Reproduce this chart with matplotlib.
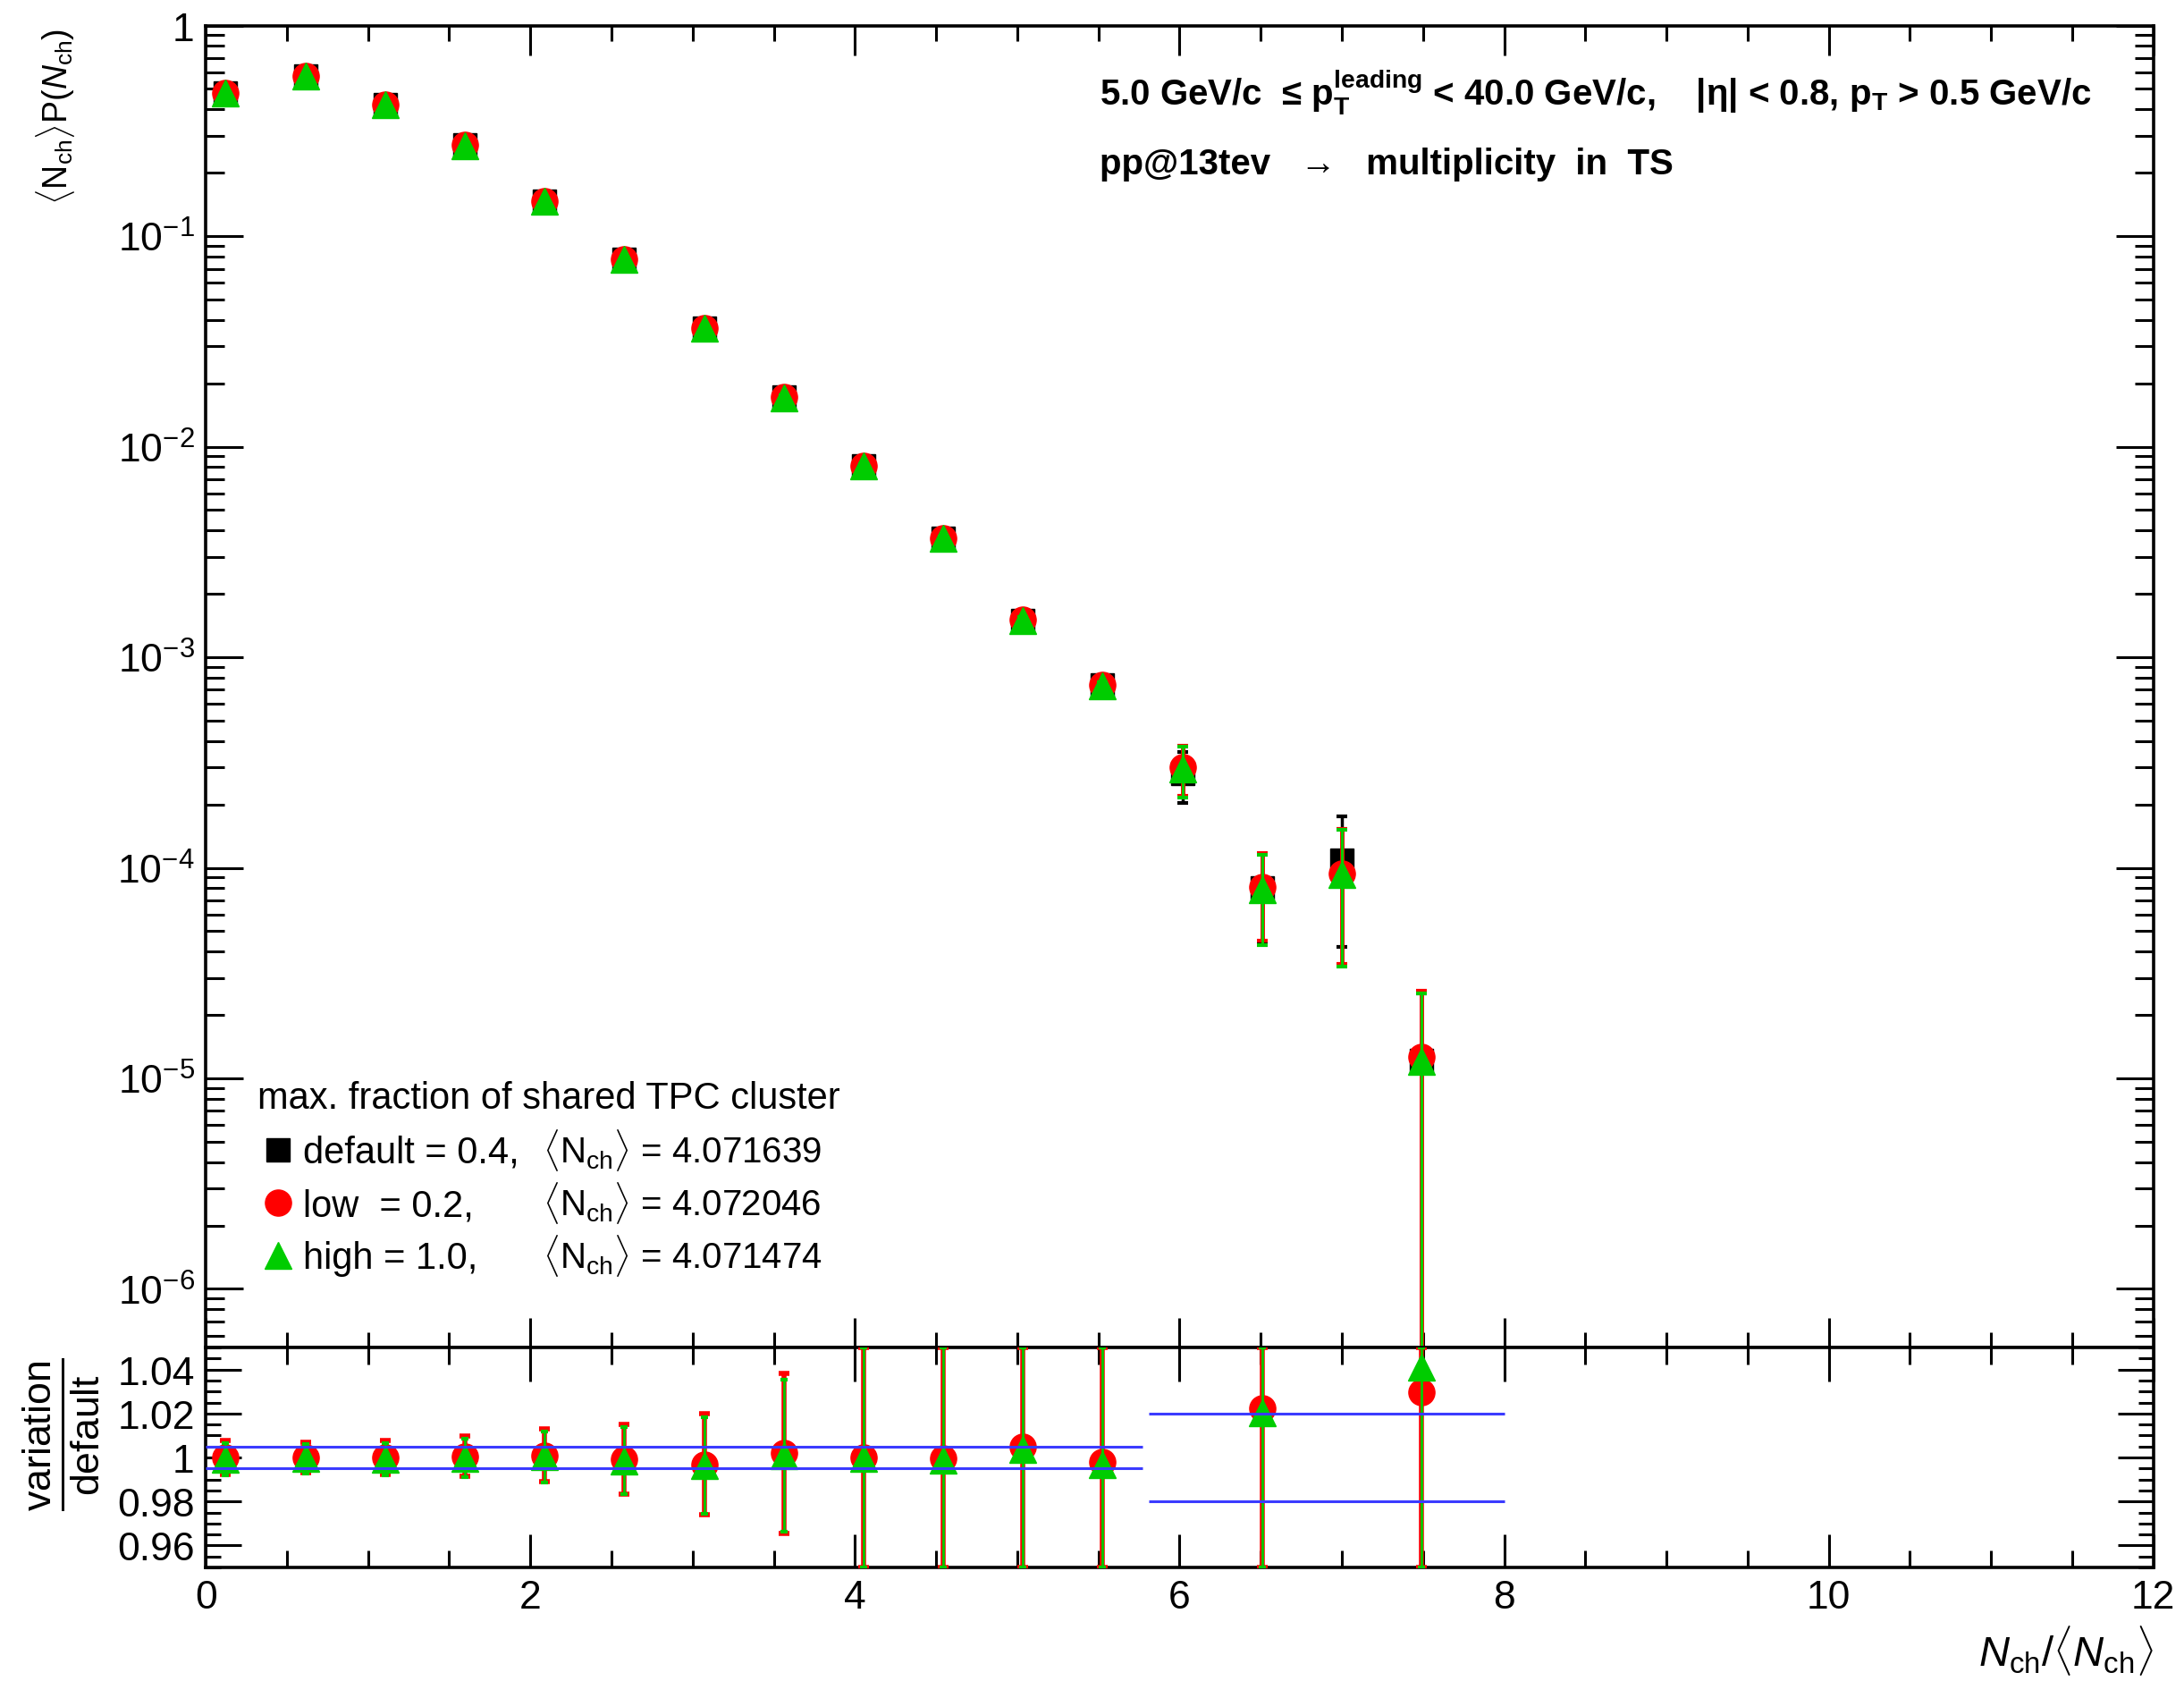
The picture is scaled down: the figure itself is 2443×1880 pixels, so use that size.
import numpy as np
import matplotlib
matplotlib.use('Agg')
import matplotlib.pyplot as plt
from matplotlib.ticker import LogLocator, MultipleLocator, FuncFormatter, NullFormatter

plt.rcParams['font.family'] = ['Liberation Sans', 'DejaVu Sans']
plt.rcParams['mathtext.fontset'] = 'custom'
plt.rcParams['mathtext.rm'] = 'Liberation Sans'
plt.rcParams['mathtext.it'] = 'Liberation Sans:italic'
plt.rcParams['mathtext.bf'] = 'Liberation Sans:bold'

# bin centres in N_ch/<N_ch>
x = [0.123, 0.614, 1.105, 1.597, 2.088, 2.579, 3.070, 3.562,
     4.053, 4.544, 5.035, 5.526, 6.018, 6.509, 7.000, 7.491]

# <N_ch> P(N_ch) for the three cut variations
p_default = [0.48, 0.578, 0.42, 0.27, 0.147, 0.0774, 0.0367, 0.0172,
             0.0081, 0.00368, 0.0015, 0.00074, 2.8e-4, 8.0e-5, 1.09e-4, 1.22e-5]
e_default = [0.004, 0.005, 0.004, 0.003, 0.002, 0.0012, 0.0007, 0.0004,
             0.0002, 0.0001, 5e-5, 3e-5, 7.6e-5, 3.6e-5, 6.7e-5, 1.3e-5]
p_low = [0.48, 0.578, 0.42, 0.27, 0.147, 0.0774, 0.0366, 0.0172,
         0.0081, 0.00368, 0.00151, 0.00074, 3.0e-4, 8.1e-5, 9.4e-5, 1.26e-5]
e_low = [0.004, 0.005, 0.004, 0.003, 0.002, 0.0012, 0.0007, 0.0004,
         0.0002, 0.0001, 5e-5, 3e-5, 8.0e-5, 3.6e-5, 5.9e-5, 1.34e-5]
p_high = [0.478, 0.577, 0.419, 0.269, 0.146, 0.0772, 0.0365, 0.0171,
          0.0081, 0.00366, 0.0015, 0.00073, 2.95e-4, 7.9e-5, 9.3e-5, 1.2e-5]
e_high = [0.004, 0.005, 0.004, 0.003, 0.002, 0.0012, 0.0007, 0.0004,
          0.0002, 0.0001, 5e-5, 3e-5, 8.0e-5, 3.6e-5, 5.9e-5, 1.34e-5]

# variation / default
rx = [0.123, 0.614, 1.105, 1.597, 2.088, 2.579, 3.070, 3.562,
      4.053, 4.544, 5.035, 5.526, 6.509, 7.491]
r_low = [1.000, 1.000, 1.000, 1.0005, 1.001, 0.9992, 0.9968, 1.0019,
         1.000, 0.9996, 1.005, 0.9978, 1.0223, 1.0295]
re_low = [0.0079, 0.007, 0.0077, 0.0091, 0.012, 0.016, 0.023, 0.0365,
          0.08, 0.1, 0.12, 0.15, 0.3, 0.5]
r_high = [0.9992, 0.9995, 0.9992, 0.9998, 1.0003, 0.9985, 0.9962, 1.0008,
          0.9998, 0.9988, 1.0035, 0.9968, 1.0205, 1.0410]
re_high = [0.0075, 0.0067, 0.0073, 0.0087, 0.0115, 0.0152, 0.022, 0.0345,
           0.08, 0.1, 0.12, 0.15, 0.3, 0.5]

# systematic bands drawn in the ratio panel: (x from, x to, lower, upper)
bands = [(0.0, 5.77, 0.995, 1.005), (5.81, 8.0, 0.98, 1.02)]

mean_nch = ['4.071639', '4.072046', '4.071474']
var_labels = ['default = 0.4,', 'low  = 0.2,', 'high = 1.0,']

RED = '#ff0000'
GREEN = '#00cc00'
BLUE = '#3b3bff'

fig = plt.figure(figsize=(24.43, 18.81), dpi=100)
ax = fig.add_axes([0.0942, 0.1983, 0.8918, 0.7860])
rax = fig.add_axes([0.0942, 0.0675, 0.8918, 0.1308], sharex=ax)

ms_sq, ms_o, ms_t = 19, 21, 22
ax.errorbar(x, p_default, yerr=e_default, fmt='s', color='black', ms=ms_sq,
            elinewidth=2.5, capsize=4, capthick=3, zorder=3)
ax.errorbar(x, p_low, yerr=e_low, fmt='o', color=RED, ms=ms_o,
            elinewidth=3.5, capsize=4, capthick=3, zorder=4)
ax.errorbar(x, p_high, yerr=e_high, fmt='^', color=GREEN, ms=ms_t,
            elinewidth=2.2, capsize=4, capthick=3, zorder=5)

ax.set_yscale('log')
ax.set_xlim(0, 12)
ax.set_ylim(5.27e-7, 1)


def decade_label(v, pos):
    k = int(round(np.log10(v)))
    if k == 0:
        return '1'
    return r'$10^{%d}$' % k


ax.yaxis.set_major_locator(LogLocator(base=10, numticks=20))
ax.yaxis.set_minor_locator(LogLocator(base=10, subs=np.arange(2, 10), numticks=20))
ax.yaxis.set_major_formatter(FuncFormatter(decade_label))
ax.yaxis.set_minor_formatter(NullFormatter())
ax.xaxis.set_major_locator(MultipleLocator(2))
ax.xaxis.set_minor_locator(MultipleLocator(0.5))

for a in (ax, rax):
    a.tick_params(which='both', direction='in', top=True, right=True, width=2.2,
                  labelsize=32, pad=9)
    for s in a.spines.values():
        s.set_linewidth(2.6)
ax.tick_params(axis='x', which='major', length=24, labelbottom=False)
ax.tick_params(axis='x', which='minor', length=12)
ax.tick_params(axis='y', which='major', length=30)
ax.tick_params(axis='y', which='minor', length=15)

# ratio panel
lo = np.array(r_low)
hi = np.array(r_high)
ylo, yhi = 0.95, 1.05
err_low = [lo - np.clip(lo - np.array(re_low), ylo, yhi),
           np.clip(lo + np.array(re_low), ylo, yhi) - lo]
err_high = [hi - np.clip(hi - np.array(re_high), ylo, yhi),
            np.clip(hi + np.array(re_high), ylo, yhi) - hi]
rax.errorbar(rx, r_low, yerr=err_low, fmt='o', color=RED, ms=ms_o,
             elinewidth=4, capsize=4, capthick=4, zorder=4)
rax.errorbar(rx, r_high, yerr=err_high, fmt='^', color=GREEN, ms=ms_t,
             elinewidth=2, capsize=3, capthick=3, zorder=5)
for x0, x1, b0, b1 in bands:
    rax.hlines([b0, b1], x0, x1, colors=BLUE, lw=2.2, zorder=6)

rax.set_ylim(ylo, yhi)
rax.yaxis.set_major_locator(MultipleLocator(0.02))
rax.yaxis.set_minor_locator(MultipleLocator(0.005))
rax.yaxis.set_major_formatter(FuncFormatter(lambda v, p: '%g' % round(v, 3)))
rax.tick_params(axis='x', which='major', length=27)
rax.tick_params(axis='x', which='minor', length=14)
rax.tick_params(axis='y', which='major', length=29)
rax.tick_params(axis='y', which='minor', length=12)

# axis titles
fig.text(0.0255, 0.983, r'$\langle\mathrm{N}_{\mathrm{ch}}\rangle\mathrm{P}(N_{\mathrm{ch}})$',
         rotation=90, ha='center', va='top', fontsize=27)
fig.text(0.028, 0.147, r'$\frac{\mathrm{variation}}{\mathrm{default}}$',
         rotation=90, ha='center', va='center', fontsize=46)
fig.text(0.986, 0.0186, r'$N_{\mathrm{ch}}/\langle N_{\mathrm{ch}}\rangle$',
         ha='right', va='center', fontsize=34)

# selection text
ax.text(0.459, 0.940,
        r'5.0 GeV/c  ≤ p$_{\mathbf{T}}^{\mathbf{leading}}$ < 40.0 GeV/c,    '
        r'|η| < 0.8, p$_{\mathbf{T}}$ > 0.5 GeV/c',
        transform=ax.transAxes, fontsize=29, fontweight='bold', va='baseline')
ax.text(0.459, 0.888, 'pp@13tev   \u2192   multiplicity  in  TS',
        transform=ax.transAxes, fontsize=29, fontweight='bold', va='baseline')

# legend
ax.text(0.0265, 0.181, 'max. fraction of shared TPC cluster',
        transform=ax.transAxes, fontsize=30, va='baseline')
rows = [0.1496, 0.1096, 0.0695]
styles = [('s', 'black', ms_sq), ('o', RED, ms_o), ('^', GREEN, ms_t)]
for yr, (m, c, s), lab, nm in zip(rows, styles, var_labels, mean_nch):
    ax.plot([0.0372], [yr], marker=m, color=c, ms=s, ls='none',
            transform=ax.transAxes, clip_on=False)
    ax.text(0.050, yr - 0.0095, lab, transform=ax.transAxes, fontsize=30,
            va='baseline')
    ax.text(0.173, yr - 0.0095,
            r'$\langle\mathrm{N}_{\mathrm{ch}}\rangle$ = ' + nm,
            transform=ax.transAxes, fontsize=29, va='baseline')

fig.savefig('out.png', dpi=100)
